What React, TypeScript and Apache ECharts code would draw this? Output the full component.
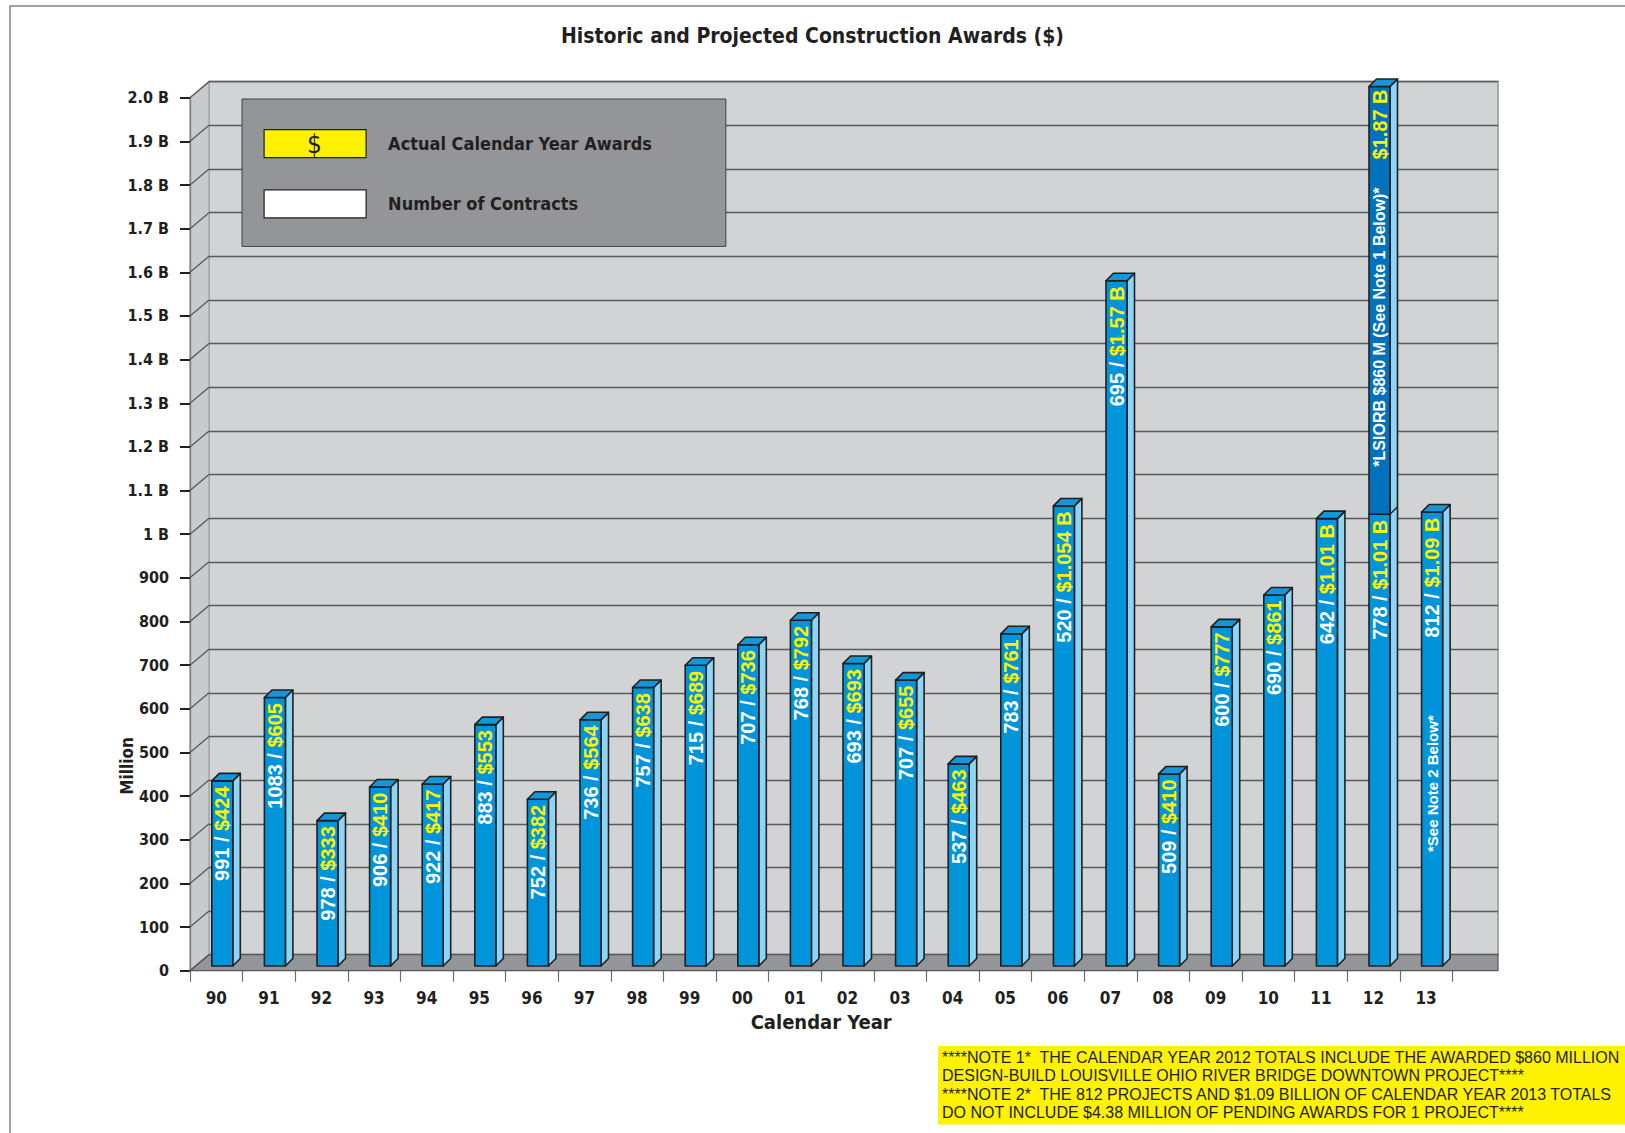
import React, { useEffect, useRef } from 'react';
import * as echarts from 'echarts';

// ---------------- data ----------------
const years = ['90', '91', '92', '93', '94', '95', '96', '97', '98', '99', '00', '01', '02', '03', '04', '05', '06', '07', '08', '09', '10', '11', '12', '13'];
const contracts = [991, 1083, 978, 906, 922, 883, 752, 736, 757, 715, 707, 768, 693, 707, 537, 783, 520, 695, 509, 600, 690, 642, 778, 812];
const awardLabels = ['$424', '$605', '$333', '$410', '$417', '$553', '$382', '$564', '$638', '$689', '$736', '$792', '$693', '$655', '$463', '$761', '$1.054 B', '$1.57 B', '$410', '$777', '$861', '$1.01 B', '$1.01 B', '$1.09 B'];
// bar heights in $ million as drawn in the picture
const awardHeights = [424, 615, 333, 410, 417, 553, 382, 564, 638, 689, 736, 792, 693, 655, 463, 761, 1054, 1570, 440, 777, 850, 1025, 1035, 1040];
// extra LSIORB segment (2012) in $ million as drawn
const lsiorbHeights = [0, 0, 0, 0, 0, 0, 0, 0, 0, 0, 0, 0, 0, 0, 0, 0, 0, 0, 0, 0, 0, 0, 980, 0];
const lsiorbLabels = ['', '', '', '', '', '', '', '', '', '', '', '', '', '', '', '', '', '', '', '', '', '', '$1.87 B', ''];
const barNotes = ['', '', '', '', '', '', '', '', '', '', '', '', '', '', '', '', '', '', '', '', '', '', '*LSIORB $860 M (See Note 1 Below)*', '*See Note 2 Below*'];
const yTickValues = [0, 100, 200, 300, 400, 500, 600, 700, 800, 900, 1000, 1100, 1200, 1300, 1400, 1500, 1600, 1700, 1800, 1900, 2000];
const yTickLabels = ['0', '100', '200', '300', '400', '500', '600', '700', '800', '900', '1 B', '1.1 B', '1.2 B', '1.3 B', '1.4 B', '1.5 B', '1.6 B', '1.7 B', '1.8 B', '1.9 B', '2.0 B'];
const noteLines = [
  '****NOTE 1*  THE CALENDAR YEAR 2012 TOTALS INCLUDE THE AWARDED $860 MILLION',
  'DESIGN-BUILD LOUISVILLE OHIO RIVER BRIDGE DOWNTOWN PROJECT****',
  '****NOTE 2*  THE 812 PROJECTS AND $1.09 BILLION OF CALENDAR YEAR 2013 TOTALS',
  'DO NOT INCLUDE $4.38 MILLION OF PENDING AWARDS FOR 1 PROJECT****',
];
const legendNames = ['Actual Calendar Year Awards', 'Number of Contracts'];

// ---------------- style ----------------
const NARROW = "'Liberation Sans Narrow', 'Arial Narrow', 'DejaVu Sans Condensed', sans-serif";
const ARIAL = "'Liberation Sans', Arial, Helvetica, sans-serif";
const DARK = '#231f20';
const FRONT = '#0095da';
const FRONT_UPPER = '#0072bc';
const SIDE = '#8dd5f6';
const TOP = '#1497d6';
const YELLOW = '#fff200';
const WALL = '#d1d3d4';
const SIDE_WALL = '#c9cacc';
const FLOOR = '#939598';
const GRIDLINE = '#58595b';

const GRID_LEFT = 190;
const GRID_TOP = 97.7;
const GRID_BOTTOM_Y = 970.7;
const CAT_W = 52.6;
const DEPTH_X = 19;
const DEPTH_Y = 16;
const WALL_RIGHT = 1498;
const W = 1625;
const H = 1133;

const BAR_W = 21;
const BAR_D = 7.5;
const BAR_SHIFT_X = 6;
const BAR_SHIFT_Y = 4.7;
const LABEL_PAD = 5.5;

function buildOption(): any {
  const gridRight = W - (GRID_LEFT + CAT_W * years.length);
  const barData = years.map((_, i) => [i, awardHeights[i], lsiorbHeights[i]]);
  const diagData = yTickValues.map((v) => [0, v]);

  const richParts = {
    w: { fill: '#ffffff', fontSize: 20, fontWeight: 'bold', fontFamily: ARIAL },
    y: { fill: YELLOW, fontSize: 20, fontWeight: 'bold', fontFamily: ARIAL },
  };

  const renderBar = (params: any, api: any) => {
    const i = params.dataIndex;
    const h = api.value(1) as number;
    const extra = api.value(2) as number;
    const p0 = api.coord([i, 0]);
    const p1 = api.coord([i, h]);
    const p2 = api.coord([i, h + extra]);
    const cx = p0[0] + BAR_SHIFT_X;
    const yb = p0[1] - BAR_SHIFT_Y;
    const yh = p1[1] - BAR_SHIFT_Y;
    const yt = p2[1] - BAR_SHIFT_Y;
    const l = cx - BAR_W / 2;
    const r = cx + BAR_W / 2;
    const ls = { stroke: DARK, lineWidth: 1.6, lineJoin: 'round' };
    const children: any[] = [
      { type: 'polygon', shape: { points: [[r, yt], [r + BAR_D, yt - BAR_D], [r + BAR_D, yb - BAR_D], [r, yb]] }, style: { fill: SIDE, ...ls } },
      { type: 'rect', shape: { x: l, y: yh, width: BAR_W, height: yb - yh }, style: { fill: FRONT, ...ls } },
    ];
    if (extra > 0) {
      children.push({ type: 'rect', shape: { x: l, y: yt, width: BAR_W, height: yh - yt }, style: { fill: FRONT_UPPER, ...ls } });
      children.push({ type: 'line', shape: { x1: r, y1: yh, x2: r + BAR_D, y2: yh - BAR_D }, style: { stroke: DARK, lineWidth: 1.4 } });
    }
    children.push({ type: 'polygon', shape: { points: [[l, yt], [l + BAR_D, yt - BAR_D], [r + BAR_D, yt - BAR_D], [r, yt]] }, style: { fill: TOP, ...ls } });
    children.push({
      type: 'text', x: cx, y: yh + LABEL_PAD, rotation: Math.PI / 2,
      style: { text: `{w|${contracts[i]} / }{y|${awardLabels[i]}}`, align: 'right', verticalAlign: 'middle', rich: richParts, fill: '#fff', font: `bold 20px ${ARIAL}` },
    });
    if (extra > 0 && lsiorbLabels[i]) {
      children.push({
        type: 'text', x: cx, y: yt + 3, rotation: Math.PI / 2,
        style: { text: lsiorbLabels[i], align: 'right', verticalAlign: 'middle', fill: YELLOW, font: `bold 20px ${ARIAL}` },
      });
    }
    if (barNotes[i]) {
      if (extra > 0) {
        children.push({
          type: 'text', x: cx, y: yt + 101, rotation: Math.PI / 2,
          style: { text: barNotes[i], align: 'right', verticalAlign: 'middle', fill: '#ffffff', font: `bold 16px ${ARIAL}` },
        });
      } else {
        children.push({
          type: 'text', x: cx, y: yb - 114, rotation: Math.PI / 2,
          style: { text: barNotes[i], align: 'left', verticalAlign: 'middle', fill: '#ffffff', font: `bold 15px ${ARIAL}` },
        });
      }
    }
    return { type: 'group', children };
  };

  const renderDiag = (params: any, api: any) => {
    const p = api.coord([0, api.value(1)]);
    const x0 = params.coordSys.x;
    return {
      type: 'line',
      shape: { x1: x0, y1: p[1], x2: x0 + DEPTH_X, y2: p[1] - DEPTH_Y },
      style: { stroke: GRIDLINE, lineWidth: 1.3 },
    };
  };

  return {
    animation: false,
    backgroundColor: '#ffffff',
    title: [
      {
        text: 'Historic and Projected Construction Awards ($)',
        left: 'center',
        top: 20,
        textStyle: { fontFamily: NARROW, fontSize: 21, fontWeight: 'bold', color: DARK },
      },
      {
        text: noteLines.join('\n'),
        left: 938,
        top: 1046,
        backgroundColor: YELLOW,
        padding: [2, 6, 3, 4],
        textStyle: { fontFamily: ARIAL, fontSize: 16, fontWeight: 'normal', color: DARK, lineHeight: 18.4 },
      },
    ],
    legend: {
      data: legendNames,
      orient: 'vertical',
      left: 242,
      top: 99,
      backgroundColor: '#939598',
      borderColor: '#414042',
      borderWidth: 1,
      padding: [30, 74, 28, 21.5],
      itemWidth: 102,
      itemHeight: 28,
      itemGap: 31,
      icon: 'rect',
      selectedMode: false,
      itemStyle: { borderColor: DARK, borderWidth: 1.2 },
      textStyle: { fontFamily: NARROW, fontSize: 18, fontWeight: 'bold', color: DARK, padding: [0, 0, 0, 17] },
    },
    grid: [
      { left: GRID_LEFT, top: GRID_TOP, right: gridRight, bottom: H - GRID_BOTTOM_Y },
      { left: GRID_LEFT + DEPTH_X, top: GRID_TOP - DEPTH_Y, right: W - WALL_RIGHT, bottom: H - (GRID_BOTTOM_Y - DEPTH_Y) },
    ],
    xAxis: [
      {
        type: 'category',
        gridIndex: 0,
        data: years,
        name: 'Calendar Year',
        nameLocation: 'middle',
        nameGap: 41,
        nameTextStyle: { fontFamily: NARROW, fontSize: 20, fontWeight: 'bold', color: DARK },
        axisLine: { show: false },
        axisTick: { show: true, length: 11, interval: 0, lineStyle: { color: '#6d6e71', width: 1.2 } },
        axisLabel: { interval: 0, margin: 19, fontFamily: NARROW, fontSize: 17, fontWeight: 'bold', color: DARK },
        splitLine: { show: false },
      },
      { type: 'value', gridIndex: 1, show: false, min: 0, max: 1 },
    ],
    yAxis: [
      {
        type: 'value',
        gridIndex: 0,
        min: 0,
        max: 2000,
        interval: 100,
        axisLine: { show: true, lineStyle: { color: '#808285', width: 1.4 } },
        axisTick: { show: true, length: 10, lineStyle: { color: DARK, width: 2 } },
        axisLabel: {
          margin: 21,
          fontFamily: NARROW,
          fontSize: 16,
          fontWeight: 'bold',
          color: DARK,
          formatter: (v: number) => yTickLabels[yTickValues.indexOf(v)] ?? '',
        },
        splitLine: { show: false },
      },
      {
        type: 'value',
        gridIndex: 1,
        min: 0,
        max: 2000,
        interval: 100,
        axisLine: { show: false },
        axisTick: { show: false },
        axisLabel: { show: false },
        splitLine: { show: true, lineStyle: { color: GRIDLINE, width: 1.4 } },
      },
    ],
    graphic: [
      {
        type: 'polyline', z: -20, silent: true,
        shape: { points: [[10, H], [10, 6], [W, 6]] },
        style: { stroke: '#808285', lineWidth: 1.5, fill: null },
      },
      {
        type: 'rect', z: -10, silent: true,
        shape: { x: GRID_LEFT + DEPTH_X, y: GRID_TOP - DEPTH_Y, width: WALL_RIGHT - GRID_LEFT - DEPTH_X, height: GRID_BOTTOM_Y - GRID_TOP },
        style: { fill: WALL, stroke: '#a7a9ac', lineWidth: 2 },
      },
      {
        type: 'polygon', z: -9, silent: true,
        shape: { points: [[GRID_LEFT, GRID_TOP], [GRID_LEFT + DEPTH_X, GRID_TOP - DEPTH_Y], [GRID_LEFT + DEPTH_X, GRID_BOTTOM_Y - DEPTH_Y], [GRID_LEFT, GRID_BOTTOM_Y]] },
        style: { fill: SIDE_WALL, stroke: '#a7a9ac', lineWidth: 1.5 },
      },
      {
        type: 'polygon', z: 1, silent: true,
        shape: { points: [[GRID_LEFT, GRID_BOTTOM_Y], [GRID_LEFT + DEPTH_X, GRID_BOTTOM_Y - DEPTH_Y], [WALL_RIGHT, GRID_BOTTOM_Y - DEPTH_Y], [WALL_RIGHT, GRID_BOTTOM_Y]] },
        style: { fill: FLOOR, stroke: '#58595b', lineWidth: 1.2 },
      },
      {
        type: 'text', z: 100, silent: true,
        x: 314.5, y: 143.5,
        style: { text: '$', align: 'center', verticalAlign: 'middle', fill: DARK, font: `26px ${NARROW}` },
      },
      {
        type: 'text', silent: true,
        x: 127, y: 766, rotation: Math.PI / 2,
        style: { text: 'Million', align: 'center', verticalAlign: 'middle', fill: DARK, font: `bold 17px ${NARROW}` },
      },
    ],
    series: [
      {
        name: 'walls',
        type: 'custom',
        xAxisIndex: 0,
        yAxisIndex: 0,
        z: 1,
        silent: true,
        data: diagData,
        renderItem: renderDiag,
      },
      {
        name: legendNames[0],
        type: 'custom',
        xAxisIndex: 0,
        yAxisIndex: 0,
        z: 3,
        itemStyle: { color: YELLOW, borderColor: DARK, borderWidth: 1.2 },
        data: barData,
        renderItem: renderBar,
      },
      {
        name: legendNames[1],
        type: 'custom',
        xAxisIndex: 0,
        yAxisIndex: 0,
        itemStyle: { color: '#ffffff', borderColor: DARK, borderWidth: 1.2 },
        data: [],
        renderItem: () => null,
      },
    ],
  };
}

export default function App() {
  const ref = useRef<HTMLDivElement>(null);
  useEffect(() => {
    if (!ref.current) return;
    const chart = echarts.init(ref.current, null, { renderer: 'svg' });
    chart.setOption(buildOption());
    return () => chart.dispose();
  }, []);
  return (
    <div
      ref={ref}
      style={{ position: 'absolute', left: 0, top: 0, width: W, height: H, background: '#ffffff' }}
    />
  );
}
